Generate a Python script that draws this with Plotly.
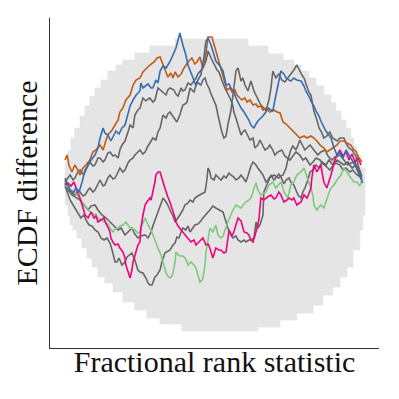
import plotly.graph_objects as go

# simultaneous envelope (step edges, value holds until next edge)
env_upper_x = [0.0, 0.01, 0.02, 0.033, 0.05, 0.067, 0.083, 0.1, 0.12, 0.143, 0.17, 0.193, 0.233,
               0.283, 0.367, 0.61, 0.677, 0.727, 0.763, 0.787, 0.813, 0.837, 0.863, 0.887, 0.903,
               0.92, 0.937, 0.953, 0.963, 0.973, 0.987]
env_upper = [0.023, 0.034, 0.047, 0.057, 0.069, 0.079, 0.089, 0.097, 0.105, 0.114, 0.120, 0.125, 0.132,
             0.139, 0.146, 0.139, 0.131, 0.125, 0.120, 0.114, 0.107, 0.099, 0.090, 0.082, 0.074,
             0.065, 0.057, 0.047, 0.039, 0.030, 0.017]
env_lower_x = [0.0, 0.01, 0.017, 0.027, 0.04, 0.057, 0.073, 0.09, 0.11, 0.133, 0.16, 0.193, 0.233,
               0.273, 0.317, 0.39, 0.643, 0.717, 0.773, 0.827, 0.86, 0.893, 0.917, 0.94, 0.96,
               0.983, 0.993]
env_lower = [-0.020, -0.030, -0.040, -0.045, -0.053, -0.063, -0.073, -0.082, -0.092, -0.098, -0.107,
             -0.117, -0.125, -0.133, -0.139, -0.146, -0.142, -0.135, -0.128, -0.120, -0.110, -0.102,
             -0.092, -0.082, -0.065, -0.045, -0.030]

orange_x = [0.000, 0.007, 0.013, 0.023, 0.033, 0.043, 0.050, 0.060, 0.070, 0.083, 0.093, 0.103, 0.117,
            0.127, 0.137, 0.143, 0.157, 0.167, 0.177, 0.183, 0.193, 0.203, 0.217, 0.227, 0.237, 0.250,
            0.260, 0.273, 0.283, 0.297, 0.307, 0.317, 0.323, 0.333, 0.343, 0.353, 0.360, 0.367, 0.377,
            0.387, 0.397, 0.410, 0.423, 0.433, 0.440, 0.450, 0.460, 0.467, 0.473, 0.477, 0.490, 0.500,
            0.510, 0.517, 0.527, 0.540, 0.550, 0.557, 0.567, 0.573, 0.583, 0.590, 0.600, 0.607, 0.617,
            0.627, 0.637, 0.643, 0.653, 0.660, 0.670, 0.683, 0.697, 0.707, 0.717, 0.727, 0.737, 0.750,
            0.763, 0.773, 0.783, 0.797, 0.807, 0.820, 0.830, 0.840, 0.850, 0.863, 0.873, 0.883, 0.897,
            0.907, 0.917, 0.930, 0.940, 0.953, 0.963, 0.970, 0.980, 0.990]
orange_y = [0.025, 0.030, 0.020, 0.013, 0.020, 0.015, 0.010, 0.017, 0.020, 0.025, 0.033, 0.035, 0.040,
            0.035, 0.045, 0.050, 0.055, 0.060, 0.065, 0.073, 0.077, 0.085, 0.090, 0.100, 0.105, 0.107,
            0.113, 0.117, 0.120, 0.123, 0.127, 0.128, 0.123, 0.115, 0.108, 0.112, 0.107, 0.113, 0.108,
            0.111, 0.117, 0.123, 0.127, 0.121, 0.123, 0.128, 0.117, 0.125, 0.137, 0.148, 0.148, 0.137,
            0.127, 0.119, 0.110, 0.095, 0.097, 0.093, 0.095, 0.090, 0.087, 0.085, 0.087, 0.083, 0.085,
            0.080, 0.081, 0.078, 0.079, 0.075, 0.077, 0.073, 0.075, 0.073, 0.072, 0.063, 0.061, 0.057,
            0.053, 0.050, 0.047, 0.049, 0.047, 0.049, 0.047, 0.044, 0.040, 0.037, 0.033, 0.035, 0.038,
            0.040, 0.044, 0.044, 0.042, 0.040, 0.035, 0.034, 0.027, 0.023]

blue_x = [0.000, 0.010, 0.017, 0.027, 0.037, 0.047, 0.057, 0.067, 0.077, 0.087, 0.100, 0.110, 0.117,
          0.127, 0.133, 0.143, 0.153, 0.163, 0.170, 0.180, 0.190, 0.200, 0.210, 0.217, 0.227, 0.237,
          0.250, 0.253, 0.260, 0.267, 0.277, 0.287, 0.293, 0.303, 0.310, 0.317, 0.327, 0.337, 0.343,
          0.353, 0.360, 0.367, 0.370, 0.377, 0.383, 0.393, 0.403, 0.410, 0.420, 0.427, 0.437, 0.443,
          0.453, 0.463, 0.470, 0.477, 0.487, 0.497, 0.503, 0.517, 0.527, 0.537, 0.547, 0.553, 0.563,
          0.570, 0.580, 0.587, 0.597, 0.603, 0.613, 0.620, 0.630, 0.637, 0.643, 0.653, 0.660, 0.670,
          0.677, 0.687, 0.693, 0.700, 0.710, 0.720, 0.730, 0.737, 0.747, 0.753, 0.763, 0.773, 0.787,
          0.797, 0.803, 0.813, 0.820, 0.830, 0.837, 0.847, 0.853, 0.863, 0.870, 0.880, 0.887, 0.897,
          0.907, 0.917, 0.927, 0.937, 0.947, 0.957, 0.967, 0.977, 0.987, 0.993]
blue_y = [0.005, 0.000, -0.005, -0.008, -0.003, -0.007, 0.003, 0.015, 0.020, 0.025, 0.030, 0.037, 0.047,
          0.057, 0.052, 0.050, 0.044, 0.050, 0.054, 0.051, 0.057, 0.060, 0.070, 0.079, 0.085, 0.090,
          0.094, 0.102, 0.097, 0.099, 0.101, 0.097, 0.097, 0.105, 0.102, 0.114, 0.119, 0.117, 0.120,
          0.125, 0.130, 0.135, 0.137, 0.145, 0.152, 0.140, 0.130, 0.120, 0.113, 0.107, 0.099, 0.105,
          0.110, 0.127, 0.144, 0.147, 0.140, 0.130, 0.124, 0.119, 0.114, 0.100, 0.101, 0.097, 0.093,
          0.087, 0.081, 0.077, 0.073, 0.070, 0.065, 0.060, 0.057, 0.061, 0.064, 0.067, 0.069, 0.073,
          0.077, 0.075, 0.074, 0.085, 0.100, 0.114, 0.111, 0.107, 0.105, 0.104, 0.107, 0.105, 0.104,
          0.099, 0.094, 0.089, 0.084, 0.079, 0.074, 0.069, 0.064, 0.058, 0.054, 0.050, 0.047, 0.037,
          0.030, 0.033, 0.027, 0.035, 0.030, 0.025, 0.020, 0.013, 0.007, 0.002]

magenta_x = [0.000, 0.010, 0.020, 0.030, 0.037, 0.043, 0.050, 0.060, 0.067, 0.077, 0.083, 0.087, 0.097,
             0.103, 0.110, 0.120, 0.130, 0.137, 0.143, 0.150, 0.153, 0.160, 0.167, 0.177, 0.183, 0.193,
             0.200, 0.203, 0.210, 0.217, 0.223, 0.227, 0.233, 0.237, 0.243, 0.250, 0.253, 0.260, 0.267,
             0.273, 0.283, 0.287, 0.293, 0.300, 0.303, 0.310, 0.317, 0.320, 0.327, 0.333, 0.337, 0.343,
             0.350, 0.357, 0.360, 0.367, 0.370, 0.377, 0.387, 0.393, 0.400, 0.410, 0.420, 0.430, 0.437,
             0.443, 0.453, 0.460, 0.470, 0.477, 0.483, 0.493, 0.503, 0.513, 0.520, 0.530, 0.537, 0.543,
             0.547, 0.557, 0.563, 0.570, 0.577, 0.587, 0.597, 0.607, 0.613, 0.620, 0.627, 0.633, 0.637,
             0.643, 0.647, 0.650, 0.653, 0.663, 0.670, 0.680, 0.687, 0.697, 0.703, 0.713, 0.720, 0.730,
             0.740, 0.747, 0.757, 0.763, 0.773, 0.780, 0.787, 0.797, 0.807, 0.813, 0.820, 0.823, 0.830,
             0.837, 0.840, 0.847, 0.853, 0.857, 0.863, 0.873, 0.880, 0.887, 0.893, 0.897, 0.907, 0.917,
             0.927, 0.937, 0.947, 0.957, 0.967, 0.977, 0.987]
magenta_y = [0.000, 0.002, -0.001, 0.003, -0.003, -0.007, -0.013, -0.023, -0.030, -0.033, -0.029, -0.027,
             -0.033, -0.031, -0.037, -0.035, -0.033, -0.039, -0.042, -0.047, -0.053, -0.057, -0.060,
             -0.059, -0.063, -0.067, -0.073, -0.080, -0.087, -0.093, -0.085, -0.077, -0.071, -0.067,
             -0.060, -0.057, -0.043, -0.030, -0.020, -0.017, -0.013, -0.015, -0.007, 0.003, 0.010,
             0.013, 0.013, 0.009, 0.003, -0.003, -0.007, -0.012, -0.017, -0.023, -0.027, -0.033,
             -0.037, -0.041, -0.045, -0.047, -0.050, -0.053, -0.057, -0.055, -0.060, -0.058, -0.055,
             -0.053, -0.060, -0.059, -0.063, -0.073, -0.063, -0.065, -0.065, -0.068, -0.067, -0.055,
             -0.045, -0.051, -0.047, -0.040, -0.033, -0.036, -0.047, -0.048, -0.050, -0.055, -0.057,
             -0.051, -0.047, -0.040, -0.033, -0.020, -0.013, -0.015, -0.013, -0.011, -0.010, -0.014,
             -0.013, -0.007, -0.010, -0.017, -0.015, -0.013, -0.015, -0.013, -0.020, -0.018, -0.017,
             -0.010, -0.013, -0.009, -0.003, 0.007, 0.020, 0.015, 0.013, 0.017, 0.020, 0.013, 0.003,
             -0.003, 0.003, 0.010, 0.017, 0.023, 0.030, 0.035, 0.029, 0.033, 0.025, 0.031, 0.023,
             0.027, 0.020]

green_x = [0.000, 0.010, 0.020, 0.033, 0.043, 0.053, 0.067, 0.077, 0.087, 0.097, 0.103, 0.110, 0.120,
           0.133, 0.143, 0.150, 0.160, 0.167, 0.177, 0.183, 0.193, 0.203, 0.210, 0.217, 0.227, 0.233,
           0.243, 0.250, 0.253, 0.260, 0.267, 0.273, 0.277, 0.287, 0.293, 0.303, 0.310, 0.320, 0.327,
           0.333, 0.337, 0.343, 0.350, 0.357, 0.360, 0.367, 0.370, 0.377, 0.383, 0.393, 0.400, 0.407,
           0.410, 0.417, 0.420, 0.430, 0.437, 0.443, 0.450, 0.457, 0.460, 0.467, 0.470, 0.477, 0.483,
           0.493, 0.503, 0.510, 0.520, 0.527, 0.533, 0.543, 0.553, 0.560, 0.570, 0.580, 0.587, 0.597,
           0.603, 0.613, 0.620, 0.627, 0.630, 0.637, 0.643, 0.653, 0.663, 0.670, 0.680, 0.687, 0.693,
           0.703, 0.713, 0.720, 0.730, 0.737, 0.743, 0.753, 0.763, 0.773, 0.787, 0.797, 0.807, 0.813,
           0.820, 0.827, 0.830, 0.840, 0.847, 0.853, 0.863, 0.873, 0.880, 0.887, 0.897, 0.907, 0.920,
           0.930, 0.940, 0.947, 0.957, 0.963, 0.973, 0.983, 0.990]
green_y = [0.000, -0.002, -0.005, -0.007, -0.011, -0.015, -0.020, -0.025, -0.027, -0.030, -0.029, -0.033,
           -0.035, -0.037, -0.039, -0.043, -0.047, -0.044, -0.043, -0.041, -0.040, -0.037, -0.040,
           -0.043, -0.044, -0.045, -0.048, -0.047, -0.043, -0.037, -0.033, -0.037, -0.040, -0.045,
           -0.050, -0.057, -0.063, -0.070, -0.077, -0.083, -0.088, -0.091, -0.093, -0.091, -0.088,
           -0.077, -0.067, -0.070, -0.071, -0.071, -0.073, -0.077, -0.080, -0.078, -0.077, -0.080,
           -0.083, -0.090, -0.097, -0.095, -0.093, -0.080, -0.067, -0.055, -0.043, -0.047, -0.040,
           -0.050, -0.053, -0.051, -0.045, -0.037, -0.030, -0.025, -0.020, -0.022, -0.023, -0.019,
           -0.017, -0.015, -0.013, -0.007, -0.003, 0.002, -0.005, -0.010, -0.008, -0.007, 0.000,
           0.002, 0.003, -0.003, 0.001, 0.003, -0.007, -0.010, -0.013, 0.000, 0.003, 0.010, 0.013,
           0.017, 0.007, 0.003, -0.003, -0.011, -0.020, -0.025, -0.022, -0.020, -0.023, -0.013,
           -0.008, -0.003, 0.000, 0.005, 0.010, 0.017, 0.013, 0.010, 0.005, 0.003, 0.003, -0.001,
           0.005]

gray1_x = [0.000, 0.010, 0.017, 0.027, 0.033, 0.043, 0.050, 0.060, 0.067, 0.077, 0.083, 0.093, 0.100,
           0.110, 0.117, 0.127, 0.133, 0.143, 0.150, 0.160, 0.167, 0.177, 0.183, 0.190, 0.200, 0.210,
           0.217, 0.227, 0.233, 0.243, 0.250, 0.260, 0.270, 0.277, 0.283, 0.293, 0.300, 0.310, 0.317,
           0.323, 0.330, 0.337, 0.343, 0.350, 0.357, 0.363, 0.370, 0.377, 0.387, 0.393, 0.400, 0.410,
           0.420, 0.427, 0.437, 0.443, 0.450, 0.460, 0.470, 0.477, 0.487, 0.493, 0.500, 0.507, 0.513,
           0.520, 0.527, 0.533, 0.540, 0.547, 0.553, 0.560, 0.563, 0.570, 0.577, 0.587, 0.593, 0.600,
           0.610, 0.617, 0.627, 0.633, 0.643, 0.650, 0.660, 0.667, 0.677, 0.683, 0.693, 0.700, 0.710,
           0.723, 0.733, 0.750, 0.760, 0.770, 0.783, 0.793, 0.803, 0.817, 0.827, 0.837, 0.850, 0.860,
           0.870, 0.883, 0.893, 0.903, 0.917, 0.927, 0.937, 0.950, 0.960, 0.970, 0.980, 0.990]
gray1_y = [0.003, 0.007, 0.010, 0.005, 0.007, 0.013, 0.015, 0.011, 0.013, 0.020, 0.023, 0.019, 0.020,
           0.027, 0.027, 0.023, 0.025, 0.032, 0.033, 0.029, 0.030, 0.027, 0.035, 0.040, 0.044, 0.053,
           0.060, 0.057, 0.070, 0.075, 0.077, 0.087, 0.084, 0.086, 0.087, 0.083, 0.085, 0.097, 0.095,
           0.094, 0.091, 0.090, 0.095, 0.097, 0.096, 0.095, 0.091, 0.089, 0.097, 0.094, 0.095, 0.102,
           0.100, 0.103, 0.107, 0.111, 0.114, 0.117, 0.124, 0.134, 0.127, 0.123, 0.120, 0.115, 0.113,
           0.107, 0.100, 0.097, 0.093, 0.089, 0.085, 0.079, 0.073, 0.067, 0.060, 0.050, 0.053, 0.055,
           0.049, 0.045, 0.047, 0.037, 0.040, 0.045, 0.039, 0.035, 0.037, 0.040, 0.035, 0.030, 0.033,
           0.035, 0.029, 0.025, 0.029, 0.033, 0.030, 0.025, 0.027, 0.020, 0.023, 0.027, 0.025, 0.021,
           0.019, 0.015, 0.019, 0.022, 0.020, 0.015, 0.017, 0.013, 0.015, 0.011, 0.009, 0.007]

gray2_x = [0.000, 0.010, 0.017, 0.027, 0.033, 0.043, 0.050, 0.060, 0.067, 0.077, 0.083, 0.093, 0.100,
           0.110, 0.117, 0.127, 0.133, 0.143, 0.150, 0.160, 0.167, 0.177, 0.183, 0.193, 0.200, 0.210,
           0.217, 0.227, 0.233, 0.243, 0.250, 0.260, 0.267, 0.277, 0.283, 0.293, 0.303, 0.310, 0.317,
           0.323, 0.327, 0.337, 0.343, 0.350, 0.357, 0.363, 0.373, 0.383, 0.393, 0.400, 0.407, 0.417,
           0.423, 0.430, 0.440, 0.447, 0.453, 0.460, 0.467, 0.473, 0.480, 0.487, 0.493, 0.503, 0.510,
           0.517, 0.523, 0.530, 0.537, 0.543, 0.553, 0.563, 0.570, 0.577, 0.587, 0.593, 0.600, 0.610,
           0.620, 0.630, 0.637, 0.643, 0.653, 0.663, 0.670, 0.680, 0.687, 0.693, 0.703, 0.713, 0.723,
           0.733, 0.743, 0.753, 0.763, 0.773, 0.783, 0.790, 0.797, 0.807, 0.813, 0.820, 0.827, 0.830,
           0.840, 0.847, 0.857, 0.863, 0.873, 0.883, 0.893, 0.907, 0.917, 0.930, 0.940, 0.947, 0.957,
           0.970, 0.980, 0.990]
gray2_y = [0.007, 0.000, -0.005, -0.009, -0.010, -0.006, -0.007, -0.011, -0.010, -0.005, -0.003, -0.007,
           -0.005, 0.001, 0.005, -0.001, 0.000, 0.007, 0.010, 0.006, 0.007, 0.013, 0.017, 0.013, 0.015,
           0.022, 0.025, 0.027, 0.030, 0.033, 0.035, 0.031, 0.033, 0.039, 0.042, 0.047, 0.045, 0.053,
           0.057, 0.065, 0.070, 0.067, 0.071, 0.073, 0.070, 0.067, 0.063, 0.070, 0.080, 0.081, 0.083,
           0.097, 0.095, 0.093, 0.103, 0.101, 0.100, 0.105, 0.107, 0.101, 0.097, 0.091, 0.087, 0.080,
           0.070, 0.060, 0.053, 0.047, 0.049, 0.060, 0.074, 0.097, 0.114, 0.117, 0.104, 0.107, 0.100,
           0.094, 0.104, 0.094, 0.090, 0.085, 0.080, 0.077, 0.074, 0.085, 0.097, 0.114, 0.107, 0.111,
           0.105, 0.103, 0.107, 0.110, 0.115, 0.120, 0.113, 0.110, 0.107, 0.097, 0.093, 0.090, 0.080,
           0.074, 0.065, 0.057, 0.052, 0.047, 0.049, 0.053, 0.047, 0.044, 0.047, 0.047, 0.040, 0.037,
           0.035, 0.029, 0.017, 0.009]

gray3_x = [0.000, 0.010, 0.023, 0.037, 0.050, 0.063, 0.077, 0.087, 0.100, 0.110, 0.123, 0.137, 0.150,
           0.163, 0.177, 0.187, 0.200, 0.210, 0.223, 0.233, 0.243, 0.253, 0.267, 0.277, 0.287, 0.293,
           0.300, 0.310, 0.320, 0.327, 0.337, 0.343, 0.353, 0.360, 0.367, 0.377, 0.383, 0.393, 0.400,
           0.410, 0.417, 0.427, 0.433, 0.443, 0.450, 0.460, 0.467, 0.473, 0.477, 0.483, 0.487, 0.497,
           0.503, 0.513, 0.520, 0.530, 0.537, 0.547, 0.553, 0.563, 0.570, 0.580, 0.587, 0.597, 0.603,
           0.610, 0.613, 0.620, 0.627, 0.637, 0.643, 0.653, 0.660, 0.670, 0.677, 0.680, 0.690, 0.697,
           0.707, 0.713, 0.720, 0.727, 0.733, 0.737, 0.743, 0.747, 0.753, 0.760, 0.770, 0.777, 0.783,
           0.793, 0.800, 0.810, 0.817, 0.830, 0.843, 0.853, 0.867, 0.877, 0.890, 0.900, 0.917, 0.930,
           0.943, 0.953, 0.967, 0.977, 0.990]
gray3_y = [0.002, -0.005, -0.010, -0.013, -0.015, -0.020, -0.025, -0.021, -0.020, -0.025, -0.030, -0.033,
           -0.037, -0.041, -0.045, -0.043, -0.050, -0.047, -0.043, -0.049, -0.053, -0.051, -0.050,
           -0.053, -0.047, -0.041, -0.035, -0.027, -0.020, -0.013, -0.017, -0.020, -0.027, -0.031,
           -0.037, -0.033, -0.030, -0.025, -0.020, -0.018, -0.015, -0.017, -0.013, -0.011, -0.010,
           -0.008, -0.007, 0.005, 0.017, 0.013, 0.007, 0.005, 0.010, 0.007, 0.005, 0.009, 0.007, 0.012,
           0.010, 0.008, 0.005, 0.007, 0.010, 0.006, 0.003, 0.009, 0.013, 0.019, 0.023, 0.020, 0.017,
           0.013, 0.010, 0.003, 0.005, 0.007, 0.009, 0.010, 0.008, 0.007, 0.009, 0.010, 0.014, 0.017,
           0.025, 0.030, 0.035, 0.039, 0.035, 0.040, 0.045, 0.039, 0.035, 0.038, 0.040, 0.035, 0.030,
           0.033, 0.035, 0.029, 0.025, 0.028, 0.030, 0.025, 0.020, 0.022, 0.023, 0.015, 0.005]

gray4_x = [0.000, 0.010, 0.017, 0.027, 0.037, 0.043, 0.053, 0.063, 0.070, 0.080, 0.090, 0.100, 0.110,
           0.120, 0.130, 0.140, 0.150, 0.157, 0.167, 0.173, 0.180, 0.190, 0.200, 0.207, 0.217, 0.223,
           0.233, 0.243, 0.250, 0.260, 0.270, 0.277, 0.283, 0.290, 0.300, 0.307, 0.317, 0.323, 0.333,
           0.340, 0.350, 0.360, 0.367, 0.373, 0.380, 0.387, 0.393, 0.403, 0.410, 0.417, 0.427, 0.433,
           0.443, 0.450, 0.460, 0.467, 0.477, 0.483, 0.493, 0.503, 0.513, 0.527, 0.537, 0.543, 0.553,
           0.560, 0.570, 0.577, 0.587, 0.597, 0.603, 0.613, 0.620, 0.630, 0.637, 0.643, 0.650, 0.657,
           0.660, 0.663, 0.670, 0.677, 0.687, 0.697, 0.703, 0.713, 0.720, 0.730, 0.737, 0.747, 0.753,
           0.763, 0.770, 0.777, 0.787, 0.793, 0.800, 0.810, 0.817, 0.827, 0.837, 0.847, 0.857, 0.870,
           0.880, 0.893, 0.907, 0.917, 0.930, 0.943, 0.957, 0.970, 0.980, 0.990]
gray4_y = [-0.001, -0.010, -0.015, -0.020, -0.025, -0.027, -0.033, -0.030, -0.035, -0.040, -0.041,
           -0.045, -0.047, -0.053, -0.055, -0.053, -0.058, -0.065, -0.077, -0.077, -0.073, -0.080,
           -0.077, -0.072, -0.070, -0.068, -0.075, -0.085, -0.087, -0.088, -0.093, -0.098, -0.100,
           -0.100, -0.092, -0.090, -0.085, -0.077, -0.068, -0.067, -0.065, -0.060, -0.058, -0.052,
           -0.053, -0.047, -0.043, -0.045, -0.041, -0.047, -0.043, -0.040, -0.039, -0.037, -0.033,
           -0.030, -0.027, -0.025, -0.021, -0.023, -0.025, -0.027, -0.037, -0.043, -0.050, -0.053,
           -0.051, -0.055, -0.057, -0.055, -0.057, -0.055, -0.055, -0.053, -0.037, -0.043, -0.040,
           -0.033, -0.030, -0.007, -0.001, 0.003, 0.010, 0.005, 0.007, 0.011, 0.008, 0.001, 0.005,
           0.007, 0.003, 0.000, -0.005, -0.010, -0.013, -0.007, -0.003, 0.005, 0.013, 0.015, 0.020,
           0.017, 0.023, 0.020, 0.025, 0.020, 0.025, 0.023, 0.020, 0.023, 0.017, 0.020, 0.013, 0.007]


def step_path(xs, ys, x_end):
    px, py = [], []
    edges = xs[1:] + [x_end]
    for x0, x1, y in zip(xs, edges, ys):
        px += [x0, x1]
        py += [y, y]
    return px, py


ux, uy = step_path(env_upper_x, env_upper, 1.0)
lx, ly = step_path(env_lower_x, env_lower, 1.0)
band_x = ux + lx[::-1]
band_y = uy + ly[::-1]

fig = go.Figure()
fig.add_trace(go.Scatter(x=band_x, y=band_y, fill='toself', fillcolor='#e5e5e5',
                         line=dict(color='#e0e0e0', width=0.6), mode='lines', hoverinfo='skip'))

gray = '#666666'
for gx, gy in [(gray4_x, gray4_y), (gray3_x, gray3_y), (gray1_x, gray1_y), (gray2_x, gray2_y)]:
    fig.add_trace(go.Scatter(x=gx, y=gy, mode='lines', line=dict(color=gray, width=1.6)))
fig.add_trace(go.Scatter(x=green_x, y=green_y, mode='lines', line=dict(color='#7fc97f', width=1.6)))
fig.add_trace(go.Scatter(x=magenta_x, y=magenta_y, mode='lines', line=dict(color='#f0027f', width=1.6)))
fig.add_trace(go.Scatter(x=orange_x, y=orange_y, mode='lines', line=dict(color='#bf5b17', width=1.6)))
fig.add_trace(go.Scatter(x=blue_x, y=blue_y, mode='lines', line=dict(color='#386cb0', width=1.6)))

# the page body keeps its default 8px margin, so the figure is drawn 8px smaller
font = dict(family='Liberation Serif, serif', color='#111111', size=30)
fig.update_layout(
    width=391, height=391,
    margin=dict(l=42, r=20, t=10, b=51),
    showlegend=False,
    plot_bgcolor='white', paper_bgcolor='white',
    font=font,
)
fig.update_xaxes(range=[-0.05, 1.047], showgrid=False, zeroline=False, showticklabels=False,
                 ticks='', showline=True, linecolor='#333333', linewidth=1.2, automargin=False,
                 title=dict(text='Fractional rank statistic', font=font, standoff=2))
fig.update_yaxes(range=[-0.163, 0.167], showgrid=False, zeroline=False, showticklabels=False,
                 ticks='', showline=True, linecolor='#333333', linewidth=1.2, automargin=False,
                 title=dict(text='ECDF difference', font=font, standoff=2))

fig.write_html("out.html")
